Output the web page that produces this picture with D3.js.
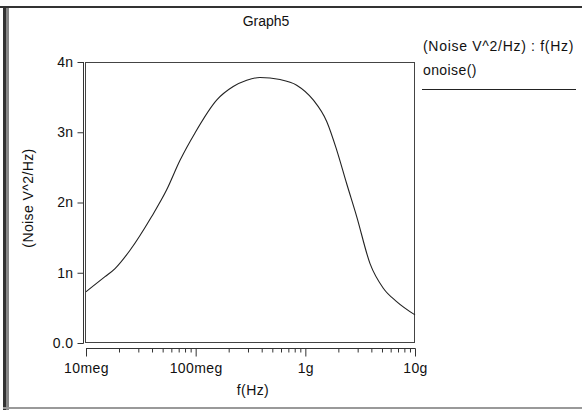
<!DOCTYPE html>
<html><head><meta charset="utf-8">
<script src="https://cdn.jsdelivr.net/npm/d3@7"></script>
<style>
html,body{margin:0;padding:0;background:#fff;}
text{font-family:"Liberation Sans",Arial,sans-serif;font-size:14px;fill:#111;letter-spacing:0.4px;}
</style></head>
<body>
<script>
const freqs = [1e7,1.49e7,1.84e7,2.52e7,3.97e7,5.44e7,7.2e7,9.86e7,1.56e8,2.2e8,2.92e8,3.86e8,5.88e8,8.34e8,1.18e9,1.57e9,1.93e9,2.38e9,2.94e9,3.89e9,5.14e9,6.8e9,1e10];
const noise = [0.73e-9,0.944e-9,1.06e-9,1.32e-9,1.80e-9,2.18e-9,2.60e-9,2.99e-9,3.46e-9,3.65e-9,3.74e-9,3.78e-9,3.75e-9,3.67e-9,3.46e-9,3.15e-9,2.75e-9,2.27e-9,1.80e-9,1.13e-9,0.78e-9,0.59e-9,0.40e-9];
const yTicks = [0,1e-9,2e-9,3e-9,4e-9];
const yTickLabels = ["0.0","1n","2n","3n","4n"];
const xTicks = [1e7,1e8,1e9,1e10];
const xTickLabels = ["10meg","100meg","1g","10g"];
const title = "Graph5";
const legendTitle = "(Noise V^2/Hz) : f(Hz)";
const seriesName = "onoise()";

const W=582,H=410;
const L=85,R=415,T=62,B=343;
const svg=d3.select("body").append("svg").attr("width",W).attr("height",H);

// window frame
svg.append("rect").attr("x",0).attr("y",6).attr("width",W).attr("height",2).attr("fill","#333");
svg.append("rect").attr("x",3).attr("y",6).attr("width",3).attr("height",H-6).attr("fill","#333");
svg.append("rect").attr("x",6).attr("y",8).attr("width",3).attr("height",H-8).attr("fill","#888");
svg.append("rect").attr("x",3).attr("y",407).attr("width",W).attr("height",2).attr("fill","#999");

const x=d3.scaleLog().domain([1e7,1e10]).range([L+1,R]);
const y=d3.scaleLinear().domain([0,4e-9]).range([B,T]);

// plot box
svg.append("rect").attr("x",L+0.5).attr("y",T+0.5).attr("width",R-L-1).attr("height",B-T-1)
  .attr("fill","none").attr("stroke","#444").attr("stroke-width",1);

// y axis
const ya=svg.append("g").attr("transform","translate(83.5,0)")
  .call(d3.axisLeft(y).tickValues(yTicks).tickFormat((d,i)=>yTickLabels[i]).tickSize(6).tickPadding(4));
ya.select(".domain").attr("stroke","#333").attr("d",`M0,${T}V${B+0.5}`);
ya.selectAll(".tick line").attr("stroke","#333");
ya.selectAll("text").style("font-size","14px").attr("fill","#111");

// x axis: minor ticks
const minor=[];
for(let e=7;e<10;e++){for(let k=2;k<=9;k++)minor.push(k*Math.pow(10,e));}
const xm=svg.append("g").attr("transform","translate(0,348.5)")
  .call(d3.axisBottom(x).tickValues(minor).tickFormat("").tickSize(4));
xm.select(".domain").remove();
xm.selectAll(".tick line").attr("stroke","#333");
const xa=svg.append("g").attr("transform","translate(0,348.5)")
  .call(d3.axisBottom(x).tickValues(xTicks).tickFormat((d,i)=>xTickLabels[i]).tickSize(8).tickPadding(7));
xa.select(".domain").attr("stroke","#333").attr("d",`M${L+1},0H${R+0.5}`);
xa.selectAll(".tick line").attr("stroke","#333");
xa.selectAll("text").style("font-size","14px").attr("fill","#111");

// curve
const line=d3.line().x((d,i)=>x(freqs[i])).y(d=>y(d)).curve(d3.curveMonotoneX);
svg.append("path").datum(noise).attr("d",line).attr("fill","none").attr("stroke","#222").attr("stroke-width",1.1);

// titles
svg.append("text").attr("x",266).attr("y",26).attr("text-anchor","middle").style("letter-spacing","0px").text(title);
svg.append("text").attr("x",253).attr("y",395).attr("text-anchor","middle").text("f(Hz)");
svg.append("text").attr("transform","translate(33,198) rotate(-90)").attr("text-anchor","middle").text("(Noise V^2/Hz)");

// legend
svg.append("text").attr("x",423).attr("y",51).style("letter-spacing","0.7px").text(legendTitle);
svg.append("text").attr("x",423).attr("y",75).text(seriesName);
svg.append("line").attr("x1",422).attr("x2",576).attr("y1",89.5).attr("y2",89.5).attr("stroke","#222");
</script>
</body></html>
